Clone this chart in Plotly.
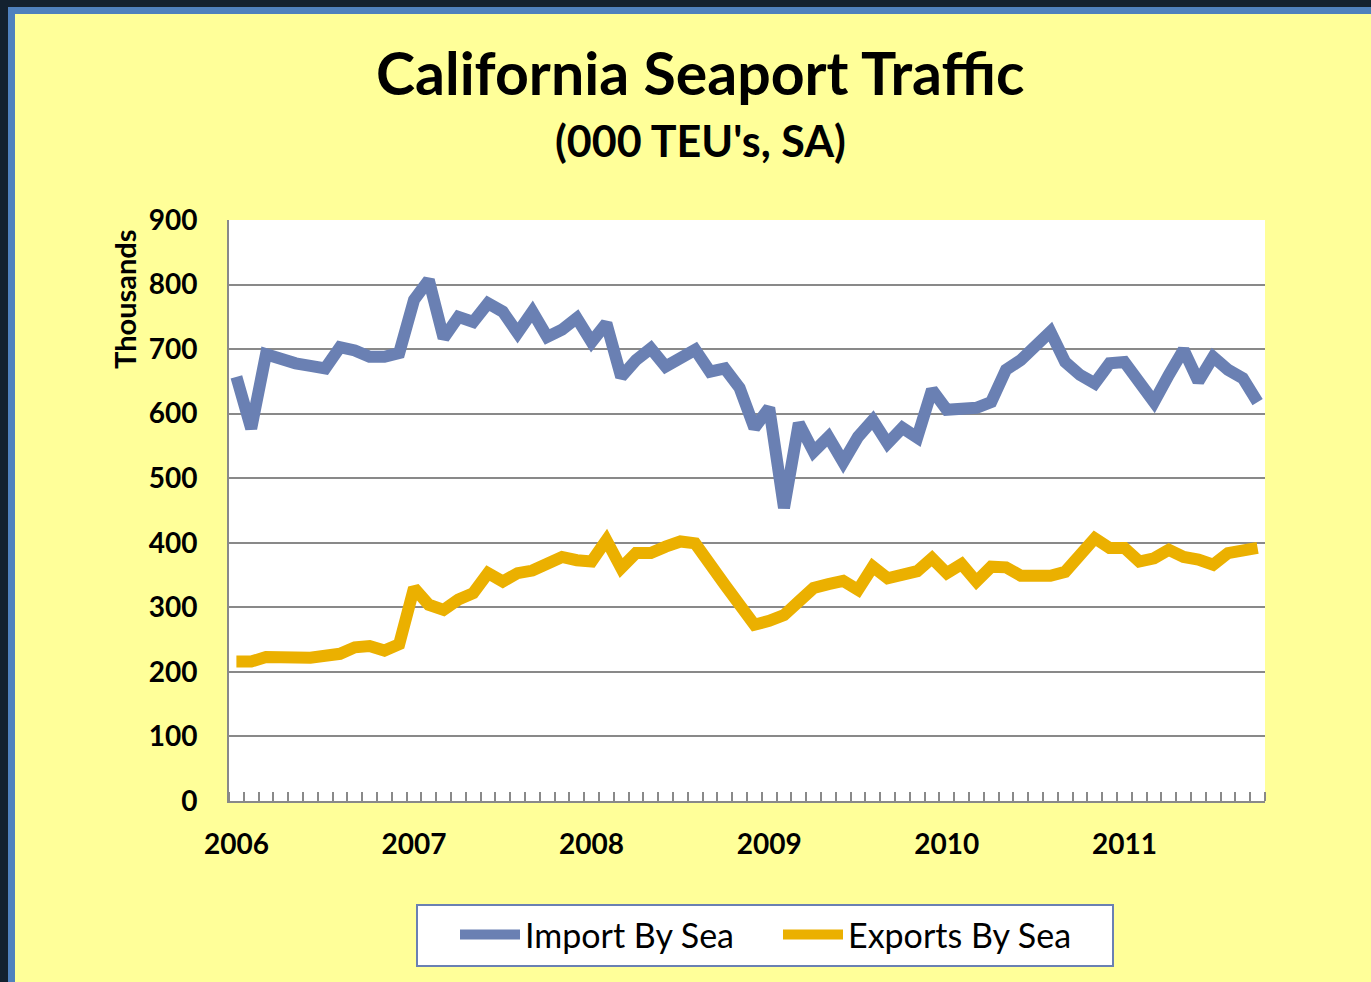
import plotly.graph_objects as go

# ---------------- data ----------------
years = ["2006", "2007", "2008", "2009", "2010", "2011"]
months_per_year = 12
n_months = 70  # Jan 2006 .. Oct 2011

imports_by_sea = [657, 577, 692, 684, 678, 674, 670, 703, 698, 688, 688, 694,
                  776, 807, 717, 750, 742, 771, 758, 725, 758, 719, 730, 748,
                  711, 740, 657, 683, 701, 673, 686, 699, 665, 670, 640, 578,
                  609, 454, 585, 541, 564, 525, 564, 590, 554, 578, 563, 637,
                  606, 607, 609, 618, 668, 683, 706, 727, 680, 660, 647, 678,
                  680, 652, 618, 660, 699, 650, 688, 668, 655, 618]

exports_by_sea = [216, 216, 223, 222, 225, 222, 225, 228, 238, 240, 233, 243,
                  330, 304, 296, 312, 322, 353, 340, 353, 357, 369, 378, 373,
                  371, 404, 361, 384, 384, 394, 402, 399, 363, 335, 304, 273,
                  279, 288, 309, 330, 336, 341, 327, 363, 345, 350, 356, 376,
                  353, 367, 340, 363, 362, 349, 348, 349, 355, 378, 407, 392,
                  392, 371, 376, 389, 378, 374, 366, 384, 386, 392]

y_ticks = [0, 100, 200, 300, 400, 500, 600, 700, 800, 900]

# ---------------- layout geometry ----------------
W, H = 1371, 982
L, R, T, B = 229, 1265, 220, 801  # plot area in px


def px(x):
    return (x - L) / (R - L)


def py(y):
    return (B - y) / (B - T)


month_index = list(range(n_months))

BLUE = "#6A80B3"
GOLD = "#EBB000"
YELLOW = "#FFFF99"
GRID = "#898989"
FONT = "Lato"

fig = go.Figure()
fig.add_trace(go.Scatter(x=month_index, y=imports_by_sea, mode="lines",
                         name="Import By Sea",
                         line=dict(color=BLUE, width=12)))
fig.add_trace(go.Scatter(x=month_index, y=exports_by_sea, mode="lines",
                         name="Exports By Sea",
                         line=dict(color=GOLD, width=12)))

shapes = [
    # outer dark frame (left & top)
    dict(type="rect", xref="paper", yref="paper", x0=px(0), x1=px(8), y0=py(H + 10), y1=py(0),
         fillcolor="#13212F", line=dict(width=0), layer="below"),
    dict(type="rect", xref="paper", yref="paper", x0=px(0), x1=px(W + 10), y0=py(7), y1=py(0),
         fillcolor="#13212F", line=dict(width=0), layer="below"),
    # blue band
    dict(type="rect", xref="paper", yref="paper", x0=px(8), x1=px(15), y0=py(H + 10), y1=py(7),
         fillcolor="#4F81BD", line=dict(width=0), layer="below"),
    dict(type="rect", xref="paper", yref="paper", x0=px(8), x1=px(W + 10), y0=py(14), y1=py(7),
         fillcolor="#4F81BD", line=dict(width=0), layer="below"),
    # legend box
    dict(type="rect", xref="paper", yref="paper", x0=px(417), x1=px(1113), y0=py(966), y1=py(905),
         fillcolor="white", line=dict(color=BLUE, width=2), layer="below"),
]

annotations = [
    dict(text="<b>California Seaport Traffic</b>", xref="paper", yref="paper",
         x=px(700), y=py(72), xanchor="center", yanchor="middle", showarrow=False,
         font=dict(family=FONT, size=59, color="black")),
    dict(text="<b>(000 TEU's, SA)</b>", xref="paper", yref="paper",
         x=px(700), y=py(140), xanchor="center", yanchor="middle", showarrow=False,
         font=dict(family=FONT, size=43, color="black")),
    dict(text="<b>Thousands</b>", xref="paper", yref="paper",
         x=px(124), y=py(299), xanchor="center", yanchor="middle", showarrow=False,
         textangle=-90, font=dict(family=FONT, size=29, color="black")),
]

fig.update_layout(
    width=W, height=H,
    margin=dict(l=L, r=W - R, t=T, b=H - B, pad=0),
    paper_bgcolor=YELLOW,
    plot_bgcolor="white",
    font=dict(family=FONT, color="black"),
    showlegend=True,
    legend=dict(orientation="h", x=px(455), y=py(935), xanchor="left", yanchor="middle",
                bgcolor="rgba(0,0,0,0)", borderwidth=0,
                font=dict(family=FONT, size=34, color="black"),
                itemwidth=60, entrywidth=248, entrywidthmode="pixels"),
    shapes=shapes,
    annotations=annotations,
    xaxis=dict(
        range=[-0.5, n_months - 0.5],
        tickmode="array",
        tickvals=[i * months_per_year for i in range(len(years))],
        ticktext=["<b>%s</b>" % y for y in years],
        ticks="",
        tickfont=dict(family=FONT, size=28, color="black"),
        ticklabelstandoff=17,
        showgrid=False, zeroline=False,
        showline=True, linecolor=GRID, linewidth=2,
        minor=dict(tick0=-0.5, dtick=1, ticks="inside", ticklen=9, tickwidth=2,
                   tickcolor=GRID, showgrid=False),
    ),
    yaxis=dict(
        range=[0, 900],
        tickmode="array",
        tickvals=y_ticks,
        ticktext=["<b>%d</b>" % v for v in y_ticks],
        ticks="",
        tickfont=dict(family=FONT, size=28, color="black"),
        ticklabelstandoff=24,
        showgrid=True, gridcolor=GRID, gridwidth=2,
        zeroline=False,
        showline=True, linecolor=GRID, linewidth=2,
    ),
)

fig.write_html("out.html", config={"displayModeBar": False},
               post_script="document.body.style.margin='0';document.body.style.overflow='hidden';")
